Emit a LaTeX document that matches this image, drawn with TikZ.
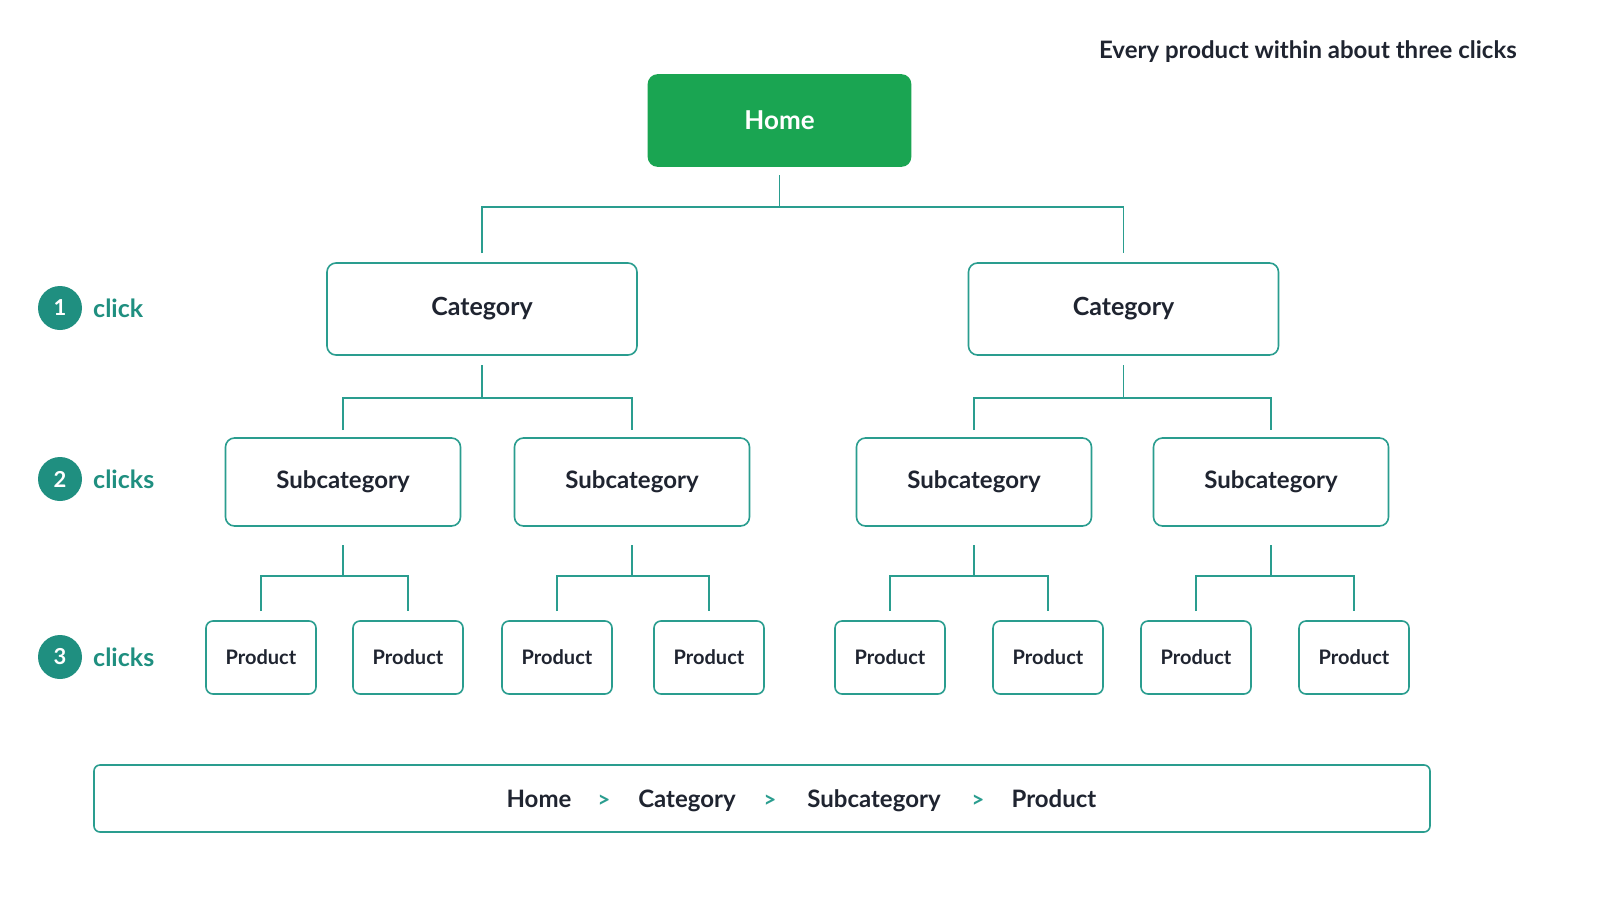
\documentclass[tikz,border=0pt]{standalone}
\usepackage{fontspec}
\setmainfont{Lato}
\begin{document}
\definecolor{teal1}{HTML}{2A9D8F}
\definecolor{badge}{HTML}{1F8F80}
\definecolor{green1}{HTML}{1AA552}
\definecolor{ink}{HTML}{1F2430}
\begin{tikzpicture}[x=1pt,y=-1pt,
  box/.style={draw=teal1,line width=1.6pt,rounded corners=9pt,fill=white,text=ink,font=\bfseries,align=center,inner sep=0pt},
  cat/.style={box,minimum width=310pt,minimum height=92pt,font=\bfseries\fontsize{25}{28}\selectfont},
  sub/.style={box,minimum width=235pt,minimum height=88pt,font=\bfseries\fontsize{24}{28}\selectfont},
  prod/.style={box,minimum width=110pt,minimum height=73pt,rounded corners=7pt,font=\bfseries\fontsize{20}{24}\selectfont},
  conn/.style={draw=teal1,line width=1.6pt},
  bad/.style={circle,fill=badge,text=white,minimum size=44pt,inner sep=0pt,font=\bfseries\fontsize{22}{24}\selectfont},
  lab/.style={anchor=west,text=badge,font=\bfseries\fontsize{25}{28}\selectfont,inner sep=0pt},
  crumb/.style={anchor=base,text=ink,font=\bfseries\fontsize{24}{28}\selectfont,inner sep=0pt},
  sep/.style={anchor=base,text=teal1,font=\bfseries\fontsize{22}{28}\selectfont,inner sep=0pt}]
\useasboundingbox[fill=white] (0,0) rectangle (1600,900);
\node[text=ink,font=\bfseries\fontsize{24}{28}\selectfont,anchor=east,inner sep=0pt] (title) at (1517,52) {Every product within about three clicks};
\node[box,fill=green1,draw=green1,text=white,minimum width=262pt,minimum height=91pt,font=\bfseries\fontsize{26}{28}\selectfont] (home) at (779.5,120.5) {Home};
\node[cat] (c1) at (482,309) {Category};
\node[cat] (c2) at (1123.5,309) {Category};
\node[sub] (s1) at (343,482) {Subcategory};
\node[sub] (s2) at (632,482) {Subcategory};
\node[sub] (s3) at (974,482) {Subcategory};
\node[sub] (s4) at (1271,482) {Subcategory};
\foreach \i/\x in {1/261,2/408,3/557,4/709,5/890,6/1048,7/1196,8/1354}
  \node[prod] (p\i) at (\x,657.5) {Product};
% connectors
\coordinate (hj) at (779.5,207);
\draw[conn] (home.south |- 0,175) -- (hj);
\draw[conn] (c1.north |- 0,253) |- (hj) -| (c2.north |- 0,253);
\foreach \c/\a/\b in {c1/s1/s2,c2/s3/s4}{
  \draw[conn] (\c.south |- 0,365) -- (\c.south |- 0,398);
  \draw[conn] (\a.north |- 0,430) |- (\c.south |- 0,398) -| (\b.north |- 0,430);
}
\foreach \s/\a/\b in {s1/p1/p2,s2/p3/p4,s3/p5/p6,s4/p7/p8}{
  \draw[conn] (\s.south |- 0,545) -- (\s.south |- 0,576);
  \draw[conn] (\a.north |- 0,611) |- (\s.south |- 0,576) -| (\b.north |- 0,611);
}
% badges
\node[bad] (b1) at (60,308) {1};
\node[lab] (l1) at (93,308) {click};
\node[bad] (b2) at (60,479) {2};
\node[lab] (l2) at (93,479) {clicks};
\node[bad] (b3) at (60,657) {3};
\node[lab] (l3) at (93,657) {clicks};
% breadcrumb
\node[box,minimum width=1336pt,minimum height=67pt,rounded corners=6pt] (bc) at (762,798.5) {};
\node[crumb] (k1) at (539,807) {Home};
\node[sep] (g1) at (604,807) {>};
\node[crumb] (k2) at (687,807) {Category};
\node[sep] (g2) at (770,807) {>};
\node[crumb] (k3) at (874,807) {Subcategory};
\node[sep] (g3) at (978,807) {>};
\node[crumb] (k4) at (1054,807) {Product};
\end{tikzpicture}
\end{document}
